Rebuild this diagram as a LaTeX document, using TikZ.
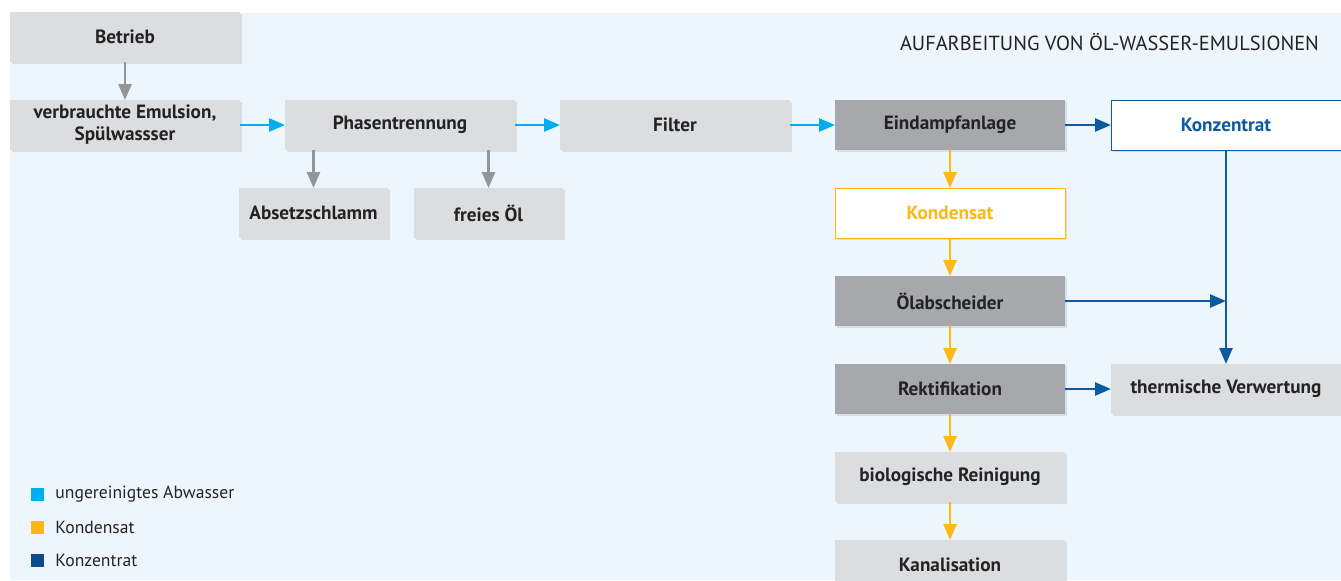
\documentclass[tikz,border=0pt]{standalone}
\usepackage{fontspec}
\setmainfont{PT Sans}
\usetikzlibrary{positioning,arrows.meta,shadows}
\definecolor{PanelBlue}{RGB}{238,246,253}
\definecolor{BoxGray}{RGB}{220,221,223}
\definecolor{DarkGray}{RGB}{167,168,171}
\definecolor{ArrowGray}{RGB}{147,149,152}
\definecolor{RawCyan}{RGB}{0,173,239}
\definecolor{CondYellow}{RGB}{253,184,19}
\definecolor{ConcBlue}{RGB}{14,90,160}
\definecolor{InkGray}{RGB}{38,34,35}

\begin{document}
\begin{tikzpicture}[x=0.5pt, y=-0.5pt, node distance=19pt and 22.5pt,
  every node/.style={font=\fontsize{8.8}{10.2}\selectfont, text=InkGray, align=center},
  box/.style={fill=BoxGray, minimum width=115pt, minimum height=25pt, inner sep=0pt, outer sep=0pt,
    font=\fontsize{9.6}{11}\selectfont\bfseries,
    drop shadow={shadow xshift=1.2pt, shadow yshift=-1.2pt, opacity=0.2}},
  darkbox/.style={box, fill=DarkGray},
  smallbox/.style={box, minimum width=74.5pt},
  flow/.style={-{Triangle[length=8pt, width=6.5pt]}, line width=1.3pt},
  legend/.style={minimum size=6.5pt, inner sep=0pt}]
  \useasboundingbox (0,0) rectangle (1341,580);
  \fill[PanelBlue] (10,13) rectangle (1341,580);
  \node[anchor=east, font=\fontsize{10.2}{12}\selectfont] (title) at (1326,42) {AUFARBEITUNG VON ÖL-WASSER-EMULSIONEN};

  \node[box] (betrieb) at (125,37) {Betrieb};
  \node[box, below=of betrieb] (emulsion) {verbrauchte Emulsion,\\Spülwassser};
  \node[box, right=of emulsion] (phase) {Phasentrennung};
  \node[box, right=of phase] (filter) {Filter};
  \node[darkbox, right=of filter] (eindampf) {Eindampfanlage};
  \node[box, fill=white, draw=ConcBlue, text=ConcBlue, drop shadow={opacity=0}, right=23pt of eindampf] (konzentrat) {Konzentrat};
  \node[smallbox, below=19pt of phase.south west, xshift=14.25pt] (schlamm) {Absetzschlamm};
  \node[smallbox, below=19pt of phase.south east, xshift=-13.25pt] (oel) {freies Öl};
  \node[box, fill=white, draw=CondYellow, text=CondYellow, drop shadow={opacity=0}, below=of eindampf] (kondensat) {Kondensat};
  \node[darkbox, below=of kondensat] (abscheider) {Ölabscheider};
  \node[darkbox, below=of abscheider] (rekt) {Rektifikation};
  \node[box, right=23pt of rekt] (thermisch) {thermische Verwertung};
  \node[box, below=of rekt] (bio) {biologische Reinigung};
  \node[box, below=of bio] (kanal) {Kanalisation};

  \draw[flow, ArrowGray] (betrieb) -- (emulsion);
  \draw[flow, ArrowGray] (schlamm.north |- phase.south) -- (schlamm);
  \draw[flow, ArrowGray] (oel.north |- phase.south) -- (oel);
  \draw[flow, RawCyan] (emulsion) -- (phase);
  \draw[flow, RawCyan] (phase) -- (filter);
  \draw[flow, RawCyan] (filter) -- (eindampf);
  \draw[flow, ConcBlue] (eindampf) -- (konzentrat);
  \draw[flow, CondYellow] (eindampf) -- (kondensat);
  \draw[flow, CondYellow] (kondensat) -- (abscheider);
  \draw[flow, CondYellow] (abscheider) -- (rekt);
  \draw[flow, CondYellow] (rekt) -- (bio);
  \draw[flow, CondYellow] (bio) -- (kanal);
  \coordinate (join) at (konzentrat.south |- abscheider.east);
  \draw[flow, ConcBlue] (konzentrat) -- (thermisch);
  \draw[flow, ConcBlue] (abscheider) -- (join);
  \draw[flow, ConcBlue] (rekt) -- (thermisch);

  \node[legend, fill=RawCyan] (lraw) at (37.5,494.5) {};
  \node[legend, fill=CondYellow, below=9.5pt of lraw] (lcond) {};
  \node[legend, fill=ConcBlue!85!black, below=9.5pt of lcond] (lconc) {};
  \node[right=2pt of lraw] {ungereinigtes Abwasser};
  \node[right=2pt of lcond] {Kondensat};
  \node[right=2pt of lconc] {Konzentrat};
\end{tikzpicture}
\end{document}
